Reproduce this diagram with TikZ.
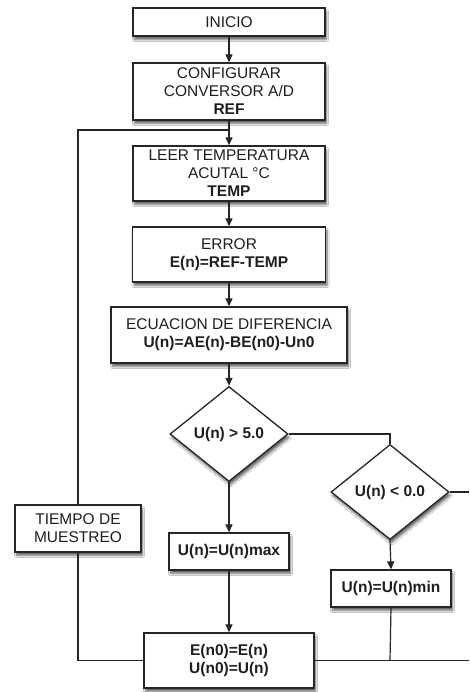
\documentclass[tikz,border=0pt]{standalone}
\usepackage{fontspec}
\setmainfont{Liberation Sans}
\usetikzlibrary{shapes.geometric,arrows.meta,shadows.blur}

\begin{document}
\begin{tikzpicture}[x=1pt,y=-1pt,
  font=\fontsize{15.5}{18}\selectfont,
  shade/.style={blur shadow={shadow xshift=1.5pt,shadow yshift=-3.5pt,shadow blur steps=6,shadow opacity=60}},
  proc/.style={draw=black!85,line width=1.3pt,fill=white,text=black!88,align=center,inner sep=0pt,shade},
  dec/.style={diamond,draw=black!85,line width=1.3pt,fill=white,text=black!88,inner sep=0pt,
    minimum width=118pt,minimum height=95pt,font=\fontsize{15.5}{18}\selectfont\bfseries,shade},
  wire/.style={draw=black!85,line width=1.2pt},
  flow/.style={wire,-{Triangle[length=8pt,width=7pt]}}]

\useasboundingbox (0,0) rectangle (469,692);
\fill[white] (0,0) rectangle (469,692);

% main column
\node[proc,minimum width=192pt,minimum height=28pt] (inicio) at (229,22) {INICIO};
\node[proc,minimum width=192pt,minimum height=57pt] (config) at (229,91.5)
  {CONFIGURAR\\CONVERSOR A/D\\\textbf{REF}};
\node[proc,minimum width=192pt,minimum height=55pt] (leer) at (229,173.5)
  {LEER TEMPERATURA\\ACUTAL °C\\\textbf{TEMP}};
\node[proc,minimum width=193pt,minimum height=55pt] (error) at (229,254.5)
  {ERROR\\\textbf{E(n)=REF-TEMP}};
\node[proc,minimum width=236pt,minimum height=56pt] (ecua) at (229,335)
  {ECUACION DE DIFERENCIA\\\textbf{U(n)=AE(n)-BE(n0)-Un0}};
\node[dec] (d1) at (229,434) {U(n) > 5.0};
\node[proc,minimum width=120pt,minimum height=37pt,font=\fontsize{15.5}{18}\selectfont\bfseries] (umax) at (229,551.5) {U(n)=U(n)max};
\node[proc,minimum width=170pt,minimum height=55pt,font=\fontsize{15.5}{18}\selectfont\bfseries] (upd) at (229,660.5)
  {E(n0)=E(n)\\U(n0)=U(n)};

% right branch
\node[dec] (d2) at (390,492) {U(n) < 0.0};
\node[proc,minimum width=120pt,minimum height=37pt,font=\fontsize{15.5}{18}\selectfont\bfseries] (umin) at (391,588.5) {U(n)=U(n)min};

% sampling loop
\node[proc,minimum width=126pt,minimum height=47pt] (tiempo) at (78,528.5)
  {TIEMPO DE\\MUESTREO};

\coordinate (jn) at (229,130);
\coordinate (edgeA) at (469,492);
\coordinate (edgeB) at (469,660.5);
\coordinate (jmin) at (390,660.5);

% connectors
\draw[flow] (inicio.south) -- (config.north);
\draw[flow] (config.south) -- (leer.north);
\draw[flow] (leer.south) -- (error.north);
\draw[flow] (error.south) -- (ecua.north);
\draw[flow] (ecua.south) -- (d1.north);
\draw[flow] (d1.south) -- (umax.north);
\draw[flow] (umax.south) -- (upd.north);
\draw[wire] (d1.east) -| (d2.north);
\draw[flow] (d2.south) -- (umin.north);
\draw[wire] (d2.east) -- (edgeA);
\draw[wire] (upd.east) -- (edgeB);
\draw[wire] (umin.south) -- (jmin);
\draw[wire] (tiempo.north) |- (jn);
\draw[wire] (tiempo.south) |- (upd.west);
\end{tikzpicture}
\end{document}
